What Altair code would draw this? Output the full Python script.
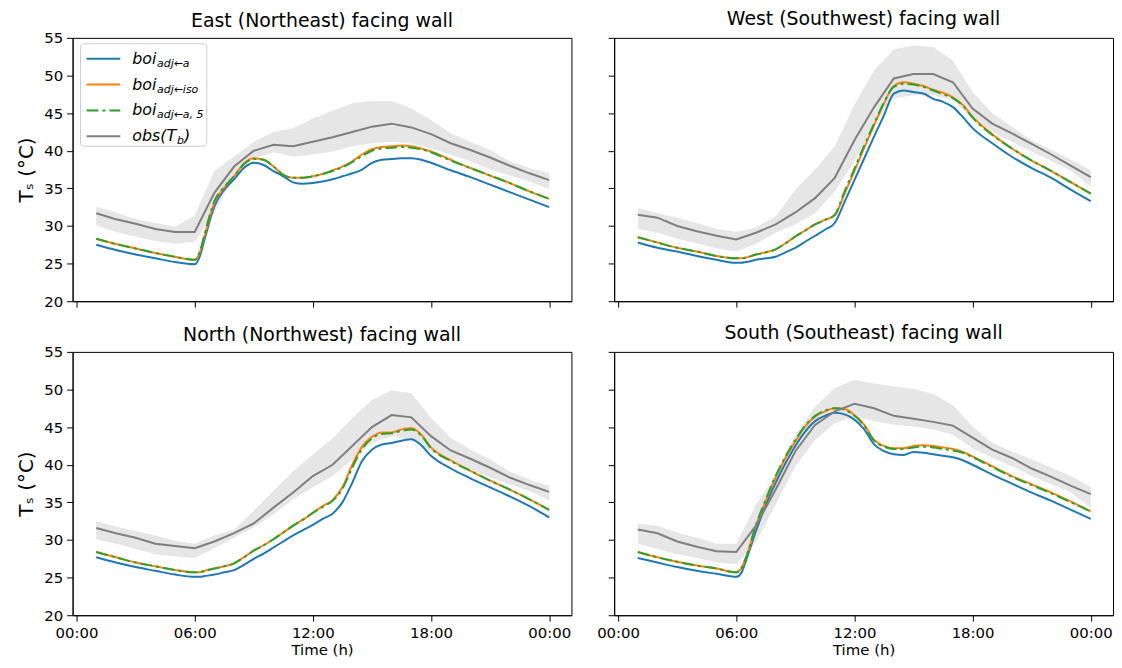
import altair as alt
import pandas as pd

HOURS_OBS = list(range(1, 25))
HOURS_MOD = [1, 2, 3, 4, 5, 6, 6.25, 6.5, 7, 7.5, 8, 8.5, 9, 9.5, 10, 10.5, 11, 11.5,
             12, 12.5, 13, 13.5, 14, 14.5, 15, 15.5, 16, 16.5, 17, 17.5, 18,
             19, 20, 21, 22, 23, 24]

TITLES = ["East (Northeast) facing wall", "West (Southwest) facing wall",
          "North (Northwest) facing wall", "South (Southeast) facing wall"]

X_TICKS = [0, 6, 12, 18, 24]
Y_TICKS = [20, 25, 30, 35, 40, 45, 50, 55]

# ---- East
east_obs = [31.7, 30.9, 30.3, 29.6, 29.2, 29.2, 34.4, 37.9, 40.0, 40.8, 40.6, 41.2,
            41.8, 42.5, 43.2, 43.6, 43.1, 42.2, 41.0, 40.1, 39.1, 38.0, 37.0, 36.1]
east_hi = [32.6, 31.8, 30.9, 30.4, 29.9, 31.4, 37.3, 39.2, 41.2, 42.5, 43.0, 44.3,
           45.3, 46.3, 46.6, 46.6, 45.6, 44.1, 42.3, 41.2, 40.1, 38.6, 37.7, 37.0]
east_lo = [30.1, 29.2, 28.6, 28.0, 27.6, 27.9, 31.8, 36.6, 39.0, 39.8, 39.2, 39.5,
           39.9, 40.6, 41.0, 41.2, 41.0, 40.3, 39.5, 38.6, 37.5, 36.7, 35.9, 34.9]
east_blue = [27.5, 26.8, 26.2, 25.7, 25.2, 24.9, 25.9, 28.2, 32.6, 34.8, 36.2, 37.7,
             38.4, 38.1, 37.3, 36.6, 35.8, 35.6, 35.7, 35.9, 36.2, 36.6, 37.0, 37.5,
             38.4, 38.8, 38.9, 39.0, 39.0, 38.8, 38.4, 37.4, 36.5, 35.5, 34.5, 33.5, 32.5]
east_orange = [28.3, 27.6, 27.0, 26.4, 25.9, 25.5, 26.4, 28.7, 33.1, 35.1, 36.6, 38.3,
               39.0, 38.8, 37.9, 36.8, 36.4, 36.4, 36.6, 36.9, 37.4, 37.9, 38.6, 39.5,
               40.2, 40.5, 40.6, 40.7, 40.6, 40.3, 39.9, 38.8, 37.7, 36.7, 35.7, 34.6, 33.6]
east_green = [28.3, 27.6, 27.0, 26.4, 25.9, 25.5, 26.5, 28.9, 33.3, 35.2, 36.6, 38.2,
              38.9, 38.8, 37.9, 36.8, 36.4, 36.4, 36.6, 36.9, 37.3, 37.8, 38.5, 39.3,
              40.0, 40.3, 40.4, 40.5, 40.4, 40.2, 39.8, 38.7, 37.7, 36.7, 35.7, 34.6, 33.6]

# ---- West
west_obs = [31.5, 31.1, 30.0, 29.3, 28.7, 28.2, 29.1, 30.2, 31.8, 33.7, 36.4, 41.4,
            45.8, 49.6, 50.2, 50.2, 49.1, 45.6, 43.6, 42.3, 40.9, 39.5, 38.0, 36.5]
west_hi = [32.4, 31.7, 31.1, 30.4, 29.6, 29.2, 29.8, 31.3, 34.8, 37.5, 40.6, 46.1,
           50.7, 53.5, 54.0, 53.8, 52.0, 47.8, 45.0, 43.2, 41.4, 40.1, 38.8, 37.4]
west_lo = [29.6, 29.1, 28.3, 27.7, 27.0, 26.6, 27.6, 29.1, 30.2, 31.7, 34.6, 38.6,
           43.4, 46.9, 47.4, 47.4, 46.7, 44.3, 42.5, 41.2, 39.9, 38.6, 37.3, 35.2]
west_blue = [27.8, 27.1, 26.6, 26.0, 25.5, 25.1, 25.1, 25.2, 25.5, 25.7, 25.9, 26.5,
             27.1, 27.9, 28.7, 29.5, 30.4, 33.2, 36.1, 39.0, 41.9, 44.7, 47.6, 48.0,
             47.8, 47.6, 46.9, 46.5, 45.8, 44.5, 43.0, 41.0, 39.2, 37.7, 36.4, 34.8, 33.3]
west_orange = [28.5, 27.8, 27.1, 26.6, 26.0, 25.7, 25.7, 25.8, 26.2, 26.5, 26.9, 27.7,
               28.6, 29.4, 30.2, 30.8, 31.4, 34.3, 37.3, 40.4, 43.4, 46.3, 48.6, 49.1,
               48.9, 48.6, 48.1, 47.7, 47.1, 46.1, 44.5, 42.2, 40.3, 38.7, 37.3, 35.8, 34.3]
west_green = [28.5, 27.8, 27.1, 26.6, 26.0, 25.7, 25.7, 25.8, 26.2, 26.5, 26.9, 27.7,
              28.6, 29.4, 30.2, 30.8, 31.5, 34.6, 37.6, 40.7, 43.6, 46.4, 48.5, 48.9,
              48.8, 48.5, 48.0, 47.5, 47.0, 46.0, 44.4, 42.1, 40.3, 38.7, 37.3, 35.8, 34.3]

# ---- North
north_obs = [31.6, 30.9, 30.3, 29.5, 29.2, 28.9, 29.8, 30.9, 32.2, 34.3, 36.3, 38.5,
             40.0, 42.5, 45.0, 46.6, 46.3, 43.8, 41.9, 40.8, 39.6, 38.3, 37.3, 36.4]
north_hi = [32.5, 31.8, 31.2, 30.6, 29.9, 29.5, 30.6, 31.4, 33.9, 36.5, 39.1, 41.4,
            43.5, 46.2, 48.6, 49.9, 49.5, 46.2, 43.6, 42.0, 40.7, 39.1, 38.0, 37.2]
north_lo = [30.1, 29.5, 28.8, 28.1, 27.8, 27.6, 28.9, 30.3, 31.7, 33.4, 35.4, 37.0,
            38.5, 40.7, 42.9, 43.8, 43.3, 41.8, 40.5, 39.4, 38.3, 37.4, 36.5, 35.2]
north_blue = [27.7, 27.0, 26.4, 25.9, 25.4, 25.1, 25.1, 25.2, 25.4, 25.7, 26.0, 26.7,
              27.5, 28.2, 29.0, 29.8, 30.6, 31.3, 32.0, 32.8, 33.5, 35.0, 37.6, 40.5,
              42.0, 42.7, 42.9, 43.2, 43.4, 42.6, 41.2, 39.5, 38.2, 37.0, 35.8, 34.5, 33.0]
north_orange = [28.4, 27.7, 27.0, 26.5, 26.0, 25.7, 25.7, 25.9, 26.2, 26.5, 26.9, 27.7,
                28.6, 29.3, 30.1, 31.0, 31.9, 32.7, 33.6, 34.5, 35.3, 37.0, 40.0, 42.4,
                43.7, 44.3, 44.3, 44.7, 44.9, 44.0, 42.3, 40.6, 39.2, 37.9, 36.7, 35.4, 34.0]
north_green = [28.4, 27.7, 27.0, 26.5, 26.0, 25.7, 25.7, 25.9, 26.2, 26.5, 26.9, 27.7,
               28.6, 29.3, 30.1, 31.0, 31.9, 32.7, 33.6, 34.4, 35.2, 36.8, 39.6, 42.1,
               43.5, 44.1, 44.2, 44.5, 44.7, 43.9, 42.2, 40.5, 39.2, 37.9, 36.7, 35.4, 34.0]

# ---- South
south_obs = [31.4, 30.9, 29.8, 29.1, 28.5, 28.4, 31.9, 36.7, 41.8, 45.3, 47.1, 48.1,
             47.5, 46.5, 46.1, 45.7, 45.2, 43.6, 42.0, 40.9, 39.5, 38.4, 37.2, 36.1]
south_hi = [32.2, 31.9, 31.0, 30.3, 29.5, 29.5, 34.7, 38.7, 44.0, 47.7, 50.2, 51.3,
            50.8, 50.4, 50.1, 49.4, 47.9, 45.1, 42.9, 41.8, 40.7, 39.6, 38.5, 37.0]
south_lo = [29.5, 28.8, 28.1, 27.6, 27.0, 26.8, 29.7, 34.7, 39.8, 43.3, 45.5, 46.4,
            45.8, 45.3, 45.1, 44.7, 44.0, 42.2, 40.9, 39.8, 38.5, 37.4, 36.3, 34.3]
south_blue = [27.6, 27.0, 26.4, 25.9, 25.5, 25.1, 25.6, 27.3, 31.2, 34.7, 37.6, 40.2,
              42.5, 44.4, 45.8, 46.5, 46.9, 46.7, 46.0, 44.7, 42.7, 41.8, 41.4, 41.3,
              41.7, 41.6, 41.4, 41.2, 41.0, 40.6, 40.0, 38.7, 37.5, 36.3, 35.2, 34.0, 32.8]
south_orange = [28.4, 27.7, 27.1, 26.6, 26.2, 25.7, 26.2, 27.7, 31.9, 35.2, 38.3, 40.9,
                43.1, 45.1, 46.4, 47.1, 47.5, 47.4, 46.6, 45.3, 43.3, 42.5, 42.2, 42.2,
                42.5, 42.6, 42.5, 42.3, 42.1, 41.7, 41.1, 39.8, 38.5, 37.4, 36.3, 35.1, 33.8]
south_green = [28.4, 27.7, 27.1, 26.6, 26.2, 25.7, 26.2, 27.7, 32.0, 35.4, 38.5, 41.1,
               43.3, 45.2, 46.5, 47.2, 47.5, 47.3, 46.5, 45.2, 43.2, 42.4, 42.1, 42.1,
               42.3, 42.4, 42.3, 42.1, 41.9, 41.6, 41.0, 39.7, 38.4, 37.3, 36.2, 35.0, 33.8]

OBS = [east_obs, west_obs, north_obs, south_obs]
HI = [east_hi, west_hi, north_hi, south_hi]
LO = [east_lo, west_lo, north_lo, south_lo]
BLUE = [east_blue, west_blue, north_blue, south_blue]
ORANGE = [east_orange, west_orange, north_orange, south_orange]
GREEN = [east_green, west_green, north_green, south_green]

LEG_MAIN = ["boi", "boi", "boi", "obs(T"]
LEG_SUB = ["adj←a", "adj←iso", "adj←a, 5", "b"]
LEG_COLORS = ["#1f77b4", "#ff7f0e", "#2ca02c", "#7f7f7f"]

FONT = "DejaVu Sans"
W, H = 502, 265
ONE = pd.DataFrame({"k": [0]})


def legend_layers():
    layers = [alt.Chart(ONE).mark_rect(fill="white", fillOpacity=0.85, stroke="#cccccc",
                                       strokeWidth=1, cornerRadius=3).encode(
        x=alt.value(8), x2=alt.value(135), y=alt.value(6), y2=alt.value(109))]
    for i in range(4):
        yy = 21 + 26 * i
        kw = dict(color=LEG_COLORS[i], strokeWidth=2)
        if i == 2:
            kw["strokeDash"] = [12, 4, 3, 4]
        layers.append(alt.Chart(ONE).mark_rule(**kw).encode(
            x=alt.value(14), x2=alt.value(48), y=alt.value(yy)))
        layers.append(alt.Chart(ONE).mark_text(align="left", baseline="middle", fontSize=16,
                                               fontStyle="italic", font=FONT, color="black").encode(
            x=alt.value(60), y=alt.value(yy), text=alt.value(LEG_MAIN[i])))
        sub_x = 85 if i < 3 else 105
        layers.append(alt.Chart(ONE).mark_text(align="left", baseline="middle", fontSize=11,
                                               fontStyle="italic", font=FONT, color="black").encode(
            x=alt.value(sub_x), y=alt.value(yy + 5), text=alt.value(LEG_SUB[i])))
        if i == 3:
            layers.append(alt.Chart(ONE).mark_text(align="left", baseline="middle", fontSize=16,
                                                   fontStyle="italic", font=FONT, color="black").encode(
                x=alt.value(112), y=alt.value(yy), text=alt.value(")")))
    return layers


def panel(idx, show_x, show_y, legend=False):
    obs_df = pd.DataFrame({"t": HOURS_OBS, "obs": OBS[idx], "lo": LO[idx], "hi": HI[idx]})
    mod_df = pd.DataFrame({"t": HOURS_MOD, "a": BLUE[idx], "iso": ORANGE[idx], "a5": GREEN[idx]})

    xs = alt.Scale(domain=[-0.2, 25.13], nice=False, zero=False)
    ys = alt.Scale(domain=[20, 55], nice=False, zero=False)
    if show_x:
        xaxis = alt.Axis(values=X_TICKS, title="Time (h)",
                         labelExpr="(datum.value % 24 < 10 ? '0' : '') + (datum.value % 24) + ':00'")
    else:
        xaxis = alt.Axis(values=X_TICKS, labels=False, title=None)
    if show_y:
        yaxis = alt.Axis(values=Y_TICKS, title="Tₛ (°C)")
    else:
        yaxis = alt.Axis(values=Y_TICKS, labels=False, title=None)

    x = alt.X("t:Q", scale=xs, axis=xaxis)

    band = alt.Chart(obs_df).mark_area(color="#808080", opacity=0.2).encode(
        x=x, y=alt.Y("lo:Q", scale=ys, axis=yaxis), y2="hi:Q")
    blue = alt.Chart(mod_df).mark_line(color="#1f77b4", strokeWidth=2, interpolate="monotone").encode(
        x=x, y=alt.Y("a:Q", scale=ys, axis=yaxis))
    orange = alt.Chart(mod_df).mark_line(color="#ff7f0e", strokeWidth=2, interpolate="monotone").encode(
        x=x, y=alt.Y("iso:Q", scale=ys, axis=yaxis))
    green = alt.Chart(mod_df).mark_line(color="#2ca02c", strokeWidth=2, interpolate="monotone",
                                         strokeDash=[12, 4, 3, 4]).encode(
        x=x, y=alt.Y("a5:Q", scale=ys, axis=yaxis))
    obs = alt.Chart(obs_df).mark_line(color="#7f7f7f", strokeWidth=2).encode(
        x=x, y=alt.Y("obs:Q", scale=ys, axis=yaxis))

    layers = [band, blue, orange, green, obs]
    if legend:
        layers += legend_layers()
    # left panels have y labels overhanging the top edge by about 8px
    title_offset = 0 if show_y else 8
    return alt.layer(*layers).properties(
        width=W, height=H,
        title=alt.TitleParams(TITLES[idx], fontSize=19, font=FONT, fontWeight="normal",
                              color="black", offset=title_offset, frame="group"))


chart = alt.concat(
    panel(0, False, True, legend=True), panel(1, False, False),
    panel(2, True, True), panel(3, True, False),
    columns=2, spacing={"row": 51, "column": 43}, bounds="flush"
).properties(
    padding={"left": 8, "top": 0, "right": 0, "bottom": 0}
).configure_view(
    stroke="black", strokeWidth=1
).configure_axis(
    grid=False, domainColor="black", tickColor="black", tickSize=6,
    labelColor="black", labelFont=FONT, labelFontSize=15, labelPadding=4,
    titleFont=FONT, titleColor="black", titleFontWeight="normal"
).configure_axisX(
    titleFontSize=15, titlePadding=3
).configure_axisY(
    titleFontSize=20, titlePadding=7
)

chart.save("out.html", embed_options={"renderer": "svg", "actions": False})
